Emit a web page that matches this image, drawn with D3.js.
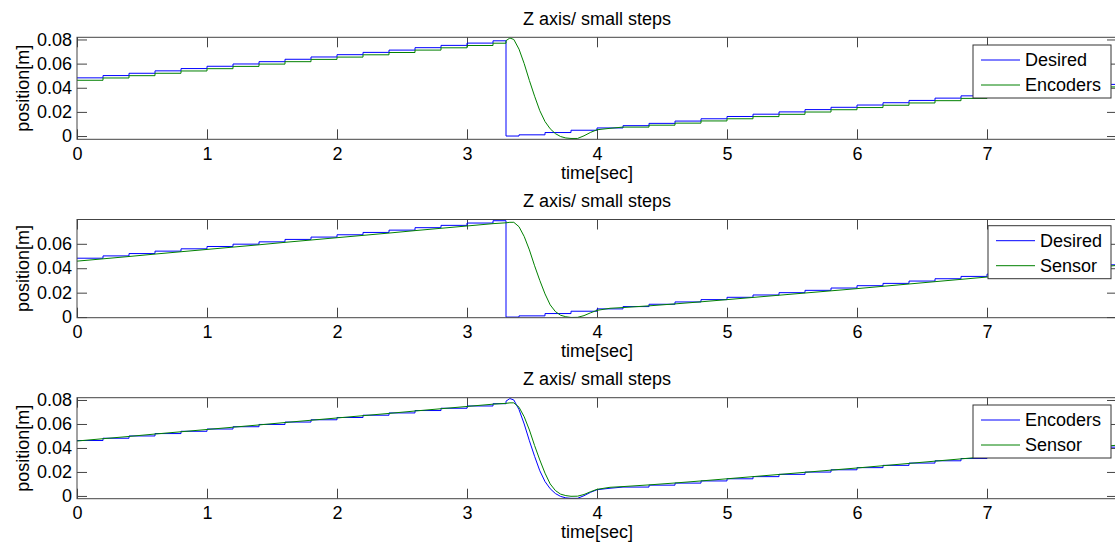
<!DOCTYPE html>
<html>
<head>
<meta charset="utf-8">
<script src="https://cdn.jsdelivr.net/npm/d3@7"></script>
<style>
  body { margin: 0; background: #fff; }
  svg { display: block; font-family: "Liberation Sans", Arial, sans-serif; }
  .tick line { stroke: #444; }
  .tick text { fill: #000; font-size: 18px; }
</style>
</head>
<body>
<script>
// desired trajectory (held between samples)
const desiredT = [0, 0.2, 0.4, 0.6, 0.8, 1.0, 1.2, 1.4, 1.6, 1.8, 2.0, 2.2, 2.4, 2.6, 2.8, 3.0, 3.2,
  3.3, 3.4, 3.6, 3.8, 4.0, 4.2, 4.4, 4.6, 4.8, 5.0, 5.2, 5.4, 5.6, 5.8, 6.0, 6.2, 6.4, 6.6, 6.8,
  7.0, 7.2, 7.4, 7.6, 7.8, 8.0];
const desiredV = [0.0482, 0.0501, 0.0520, 0.0540, 0.0559, 0.0578, 0.0597, 0.0616, 0.0636, 0.0655,
  0.0674, 0.0693, 0.0712, 0.0732, 0.0751, 0.0770, 0.0789,
  0.0000, 0.0010, 0.0029, 0.0048, 0.0067, 0.0086, 0.0105, 0.0124, 0.0143, 0.0162, 0.0181, 0.0200,
  0.0219, 0.0238, 0.0257, 0.0276, 0.0295, 0.0314, 0.0333, 0.0352, 0.0371, 0.0390, 0.0409, 0.0428, 0.0447];

// sample times for the measured signals
const tRamp1 = [0, 0.2, 0.4, 0.6, 0.8, 1.0, 1.2, 1.4, 1.6, 1.8, 2.0, 2.2, 2.4, 2.6, 2.8, 3.0, 3.2];
const tDrop = [3.30, 3.33, 3.36, 3.40, 3.44, 3.48, 3.52, 3.56, 3.60, 3.64, 3.68, 3.72, 3.76, 3.80,
  3.85, 3.90, 3.95, 4.00, 4.10];
const tRamp2 = [4.2, 4.4, 4.6, 4.8, 5.0, 5.2, 5.4, 5.6, 5.8, 6.0, 6.2, 6.4, 6.6, 6.8, 7.0, 7.2, 7.4, 7.6, 7.8, 8.0];

// encoders (stepped on the ramps)
const encRamp1 = [0.0462, 0.0481, 0.0500, 0.0520, 0.0539, 0.0558, 0.0577, 0.0596, 0.0616, 0.0635,
  0.0654, 0.0673, 0.0692, 0.0712, 0.0731, 0.0750, 0.0769];
const encDrop = [0.0790, 0.0812, 0.0800, 0.0720, 0.0600, 0.0460, 0.0330, 0.0210, 0.0120, 0.0060,
  0.0020, -0.0004, -0.0016, -0.0020, -0.0020, 0.0002, 0.0030, 0.0052, 0.0064];
const encRamp2 = [0.0074, 0.0090, 0.0107, 0.0125, 0.0143, 0.0161, 0.0180, 0.0199, 0.0218, 0.0236,
  0.0255, 0.0274, 0.0293, 0.0312, 0.0331, 0.0350, 0.0369, 0.0388, 0.0407, 0.0426];

// sensor
const sensRamp1 = [0.0458, 0.0477, 0.0496, 0.0516, 0.0535, 0.0554, 0.0573, 0.0592, 0.0612, 0.0631,
  0.0650, 0.0669, 0.0688, 0.0708, 0.0727, 0.0746, 0.0765];
const sensDrop = [0.0772, 0.0776, 0.0776, 0.0740, 0.0660, 0.0550, 0.0420, 0.0300, 0.0190, 0.0100,
  0.0045, 0.0015, 0.0003, -0.0003, -0.0002, 0.0012, 0.0035, 0.0055, 0.0072];
const sensRamp2 = [0.0078, 0.0092, 0.0108, 0.0125, 0.0143, 0.0161, 0.0179, 0.0197, 0.0215, 0.0233,
  0.0252, 0.0271, 0.0290, 0.0309, 0.0328, 0.0347, 0.0366, 0.0385, 0.0404, 0.0423];

const xTicks = [0, 1, 2, 3, 4, 5, 6, 7];
const yTicksFull = [0, 0.02, 0.04, 0.06, 0.08];
const yTicksShort = [0, 0.02, 0.04, 0.06];
const titleText = "Z axis/ small steps";
const xLabel = "time[sec]";
const yLabel = "position[m]";

const BLUE = "#0000ff", GREEN = "#008000";

function zip(ts, vs) { return ts.map((t, i) => [t, vs[i]]); }
function stepPts(ts, vs, tEnd) {
  const pts = [];
  ts.forEach((t, i) => {
    pts.push([t, vs[i]]);
    pts.push([i < ts.length - 1 ? ts[i + 1] : tEnd, vs[i]]);
  });
  return pts;
}

const desired = { pts: zip(desiredT, desiredV), curve: d3.curveStepAfter };
const encoders = { pts: stepPts(tRamp1, encRamp1, tDrop[0]).concat(zip(tDrop, encDrop), stepPts(tRamp2, encRamp2, 8.0)), curve: d3.curveLinear };
const sensor = { pts: zip(tRamp1, sensRamp1).concat(zip(tDrop, sensDrop), zip(tRamp2, sensRamp2)), curve: d3.curveLinear };

const panels = [
  { top: 37.3, bottom: 139.3, ydom: [-0.0027, 0.0818], yticks: yTicksFull, legTop: 45, legLeft: 973,
    series: [{ s: desired, name: "Desired", color: BLUE }, { s: encoders, name: "Encoders", color: GREEN }] },
  { top: 219.5, bottom: 317.7, ydom: [-0.0005, 0.0799], yticks: yTicksShort, legTop: 225.7, legLeft: 988,
    series: [{ s: desired, name: "Desired", color: BLUE }, { s: sensor, name: "Sensor", color: GREEN }] },
  { top: 397.7, bottom: 498.7, ydom: [-0.0023, 0.0819], yticks: yTicksFull, legTop: 405, legLeft: 973,
    series: [{ s: encoders, name: "Encoders", color: BLUE }, { s: sensor, name: "Sensor", color: GREEN }] }
];

const W = 1115, H = 547;
const left = 77, right = 1117;
const svg = d3.select("body").append("svg").attr("width", W).attr("height", H);

const x = d3.scaleLinear().domain([0, 8]).range([left, right]);

panels.forEach((p, k) => {
  const y = d3.scaleLinear().domain(p.ydom).range([p.bottom, p.top]);
  const g = svg.append("g");

  g.append("clipPath").attr("id", "clip" + k)
    .append("rect").attr("x", left).attr("y", p.top).attr("width", right - left).attr("height", p.bottom - p.top);

  // ticks on all four sides, pointing in
  g.append("g").attr("transform", `translate(0,${p.bottom})`)
    .call(d3.axisBottom(x).tickValues(xTicks).tickSizeInner(-10).tickSizeOuter(0).tickPadding(8).tickFormat(d3.format("d")))
    .call(a => a.select(".domain").remove());
  g.append("g").attr("transform", `translate(0,${p.top})`)
    .call(d3.axisTop(x).tickValues(xTicks).tickSizeInner(-10).tickSizeOuter(0).tickFormat(""))
    .call(a => a.select(".domain").remove());
  g.append("g").attr("transform", `translate(${left},0)`)
    .call(d3.axisLeft(y).tickValues(p.yticks).tickSizeInner(-10).tickSizeOuter(0).tickPadding(5).tickFormat(d => d === 0 ? "0" : d3.format(".2f")(d)))
    .call(a => a.select(".domain").remove());
  g.append("g").attr("transform", `translate(${right},0)`)
    .call(d3.axisRight(y).tickValues(p.yticks).tickSizeInner(-10).tickSizeOuter(0).tickFormat(""))
    .call(a => a.select(".domain").remove());
  g.selectAll(".tick text").attr("font-family", null).attr("font-size", null);

  const plot = g.append("g").attr("clip-path", `url(#clip${k})`);
  p.series.forEach(sr => {
    const line = d3.line().x(d => x(d[0])).y(d => y(d[1])).curve(sr.s.curve);
    plot.append("path").attr("d", line(sr.s.pts))
      .attr("fill", "none").attr("stroke", sr.color).attr("stroke-width", 1);
  });

  g.append("rect").attr("x", left).attr("y", p.top).attr("width", right - left).attr("height", p.bottom - p.top)
    .attr("fill", "none").attr("stroke", "#444").attr("stroke-width", 1);

  g.append("text").attr("x", (left + right) / 2).attr("y", p.top - 12.5)
    .attr("text-anchor", "middle").attr("font-size", 18).text(titleText);
  g.append("text").attr("x", (left + right) / 2).attr("y", p.bottom + 39.5)
    .attr("text-anchor", "middle").attr("font-size", 18).text(xLabel);
  g.append("text").attr("transform", `translate(28.5,${(p.top + p.bottom) / 2}) rotate(-90)`)
    .attr("text-anchor", "middle").attr("font-size", 18).text(yLabel);

  // legend
  const lg = g.append("g");
  const box = lg.append("rect").attr("fill", "#fff").attr("stroke", "#333").attr("stroke-width", 1);
  const legRight = 1111;
  p.series.forEach((sr, i) => {
    const cy = p.legTop + 15 + i * 25;
    lg.append("line").attr("x1", p.legLeft + 8).attr("x2", p.legLeft + 47).attr("y1", cy).attr("y2", cy)
      .attr("stroke", sr.color).attr("stroke-width", 1);
    lg.append("text").attr("x", p.legLeft + 52).attr("y", cy).attr("dy", "0.35em")
      .attr("font-size", 18).text(sr.name);
  });
  box.attr("x", p.legLeft).attr("y", p.legTop).attr("width", legRight - p.legLeft).attr("height", 53);
});
</script>
</body>
</html>
